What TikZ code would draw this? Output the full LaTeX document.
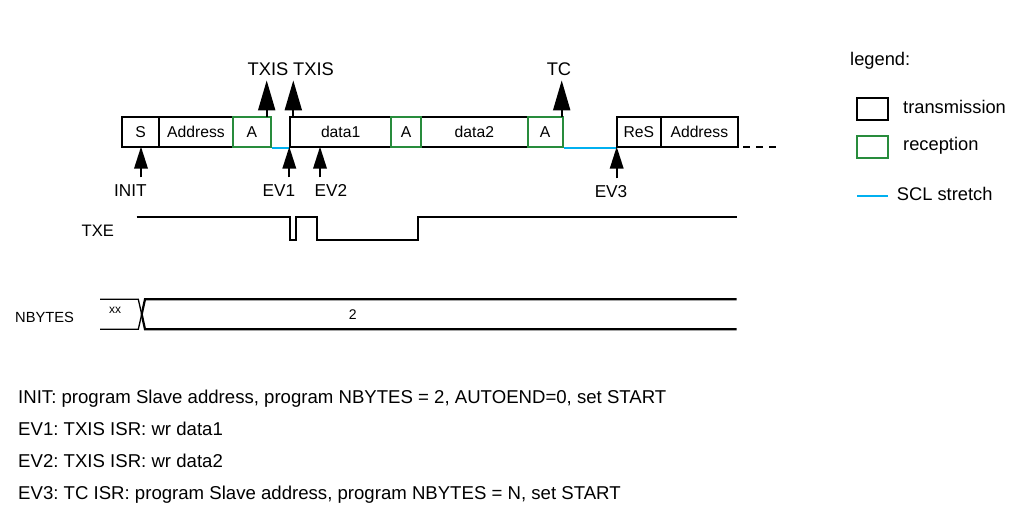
\documentclass[tikz,border=0pt]{standalone}
\usepackage{fontspec}
\setmainfont{Liberation Sans}
\usetikzlibrary{arrows.meta}
\frenchspacing

\definecolor{rxgreen}{RGB}{40,140,60}
\definecolor{sclblue}{RGB}{0,176,240}

\tikzset{
  fld/.style={draw, line width=2pt, minimum height=30pt, inner sep=0pt, anchor=west,
    font=\fontsize{15.7}{18}\selectfont, text height=11.5pt, text depth=0pt},
  rxfld/.style={fld, draw=rxgreen},
  txt/.style={inner sep=0pt, font=\fontsize{18.3}{22}\selectfont},
  note/.style={txt, font=\fontsize{18.6}{22}\selectfont, anchor=base west},
  toplbl/.style={txt, inner ysep=5pt, anchor=base},
  botlbl/.style={txt, font=\fontsize{17.2}{20}\selectfont, inner ysep=6.5pt, anchor=base},
  uparr/.style={line width=2pt, -{Triangle[length=30pt,width=17pt]}},
  dnarr/.style={line width=2pt, -{Triangle[length=22pt,width=13.5pt]}},
  sig/.style={line width=2.2pt},
  scl/.style={sclblue, line width=2pt},
  legbox/.style={draw, line width=2.2pt, minimum width=31pt, minimum height=21.7pt, inner sep=0pt}
}

\begin{document}
\begin{tikzpicture}[x=1pt, y=-1pt]
  \useasboundingbox (0,0) rectangle (1019,506);

  % frame: transmission fields first, reception on top
  \node[fld, minimum width=37.6pt] (st) at (120.7,131.7) {S};
  \node[fld, minimum width=73.4pt] (ad1) at (158.3,131.7) {Address};
  \node[fld, minimum width=100.7pt] (d1) at (289.3,131.7) {data1};
  \node[fld, minimum width=106.7pt] (d2) at (420,131.7) {data2};
  \node[fld, minimum width=44.3pt] (res) at (615.7,131.7) {ReS};
  \node[fld, minimum width=76.7pt] (ad2) at (660,131.7) {Address};
  \node[rxfld, minimum width=38.3pt] (a1) at (231.7,131.7) {A};
  \node[rxfld, minimum width=30pt] (a2) at (390,131.7) {A};
  \node[rxfld, minimum width=35pt] (a3) at (526.7,131.7) {A};

  % SCL stretch
  \draw[scl] (a1.south east) -- (d1.south west);
  \draw[scl] (a3.south east) -- (res.south west);

  \coordinate (dashstart) at (743,146.7);
  \coordinate (dashend) at (776,146.7);
  \draw[line width=2pt, dash pattern=on 7pt off 6pt] (dashstart) -- (dashend);

  % flags above
  \coordinate (ctx1) at (266.7,116.7);
  \coordinate (ctx2) at (293.3,116.7);
  \coordinate (ctc) at (561.7,116.7);
  \node[toplbl] (txis1) at (268,75) {TXIS};
  \node[toplbl, anchor=base west] (txis2) at (293,75) {TXIS};
  \node[toplbl] (tc) at (559,75) {TC};
  \draw[uparr] (ctx1) -- (ctx1 |- txis1.south);
  \draw[uparr] (ctx2) -- (ctx2 |- txis2.south);
  \draw[uparr] (ctc) -- (ctc |- tc.south);

  % events below
  \coordinate (cinit) at (141,146.7);
  \coordinate (cev1) at (289.3,146.7);
  \coordinate (cev2) at (320,146.7);
  \coordinate (cev3) at (616.7,146.7);
  \node[botlbl] (init) at (130.3,196) {INIT};
  \node[botlbl] (ev1) at (279,196) {EV1};
  \node[botlbl] (ev2) at (331,196) {EV2};
  \node[botlbl] (ev3) at (611,197) {EV3};
  \draw[dnarr] (init.north -| cinit) -- (cinit);
  \draw[dnarr] (ev1.north -| cev1) -- (cev1);
  \draw[dnarr] (ev2.north -| cev2) -- (cev2);
  \draw[dnarr] (ev3.north -| cev3) -- (cev3);

  % TXE
  \node[txt, font=\fontsize{16.6}{20}\selectfont, anchor=base] (txe) at (97.8,236) {TXE};
  \draw[sig] (136.7,216.7) -- (290,216.7) -- (290,240) -- (296,240) -- (296,216.7)
    -- (316.7,216.7) -- (316.7,240) -- (418.3,240) -- (418.3,216.7) -- (736.7,216.7);

  % NBYTES
  \node[txt, font=\fontsize{14.7}{18}\selectfont, anchor=base west] (nb) at (15,322.7) {NBYTES};
  \node[txt, font=\fontsize{12}{14}\selectfont, anchor=base] (xx) at (115,313.3) {xx};
  \node[txt, font=\fontsize{14}{16}\selectfont, anchor=base] (two) at (352.7,319.5) {2};
  \draw[line width=1.3pt] (100,299.3) -- (138.3,299.3) -- (141.7,314.3);
  \draw[line width=1.3pt] (100,329.3) -- (138.3,329.3) -- (141.7,314.3);
  \draw[sig] (141.7,314.3) -- (145,299.3) -- (736.7,299.3);
  \draw[sig] (141.7,314.3) -- (145,329.3) -- (736.7,329.3);

  % legend
  \node[txt, anchor=base west] (leg) at (850,65) {legend:};
  \node[legbox] (lgtx) at (872.8,109.2) {};
  \node[legbox, draw=rxgreen] (lgrx) at (872.8,146.9) {};
  \coordinate (sclA) at (857,195.7);
  \coordinate (sclB) at (888,195.7);
  \draw[scl] (sclA) -- (sclB);
  \node[txt, anchor=base west] (ltx) at (903,113.3) {transmission};
  \node[txt, anchor=base west] (lrx) at (903,150) {reception};
  \node[txt, anchor=base west] (lscl) at (896.7,200) {SCL stretch};

  % notes
  \node[note] (n1) at (18,403.3) {INIT: program Slave address, program NBYTES = 2, AUTOEND=0, set START};
  \node[note] (n2) at (18,435) {EV1: TXIS ISR: wr data1};
  \node[note] (n3) at (18,467.3) {EV2: TXIS ISR: wr data2};
  \node[note] (n4) at (18,499.3) {EV3: TC ISR: program Slave address, program NBYTES = N, set START};
\end{tikzpicture}
\end{document}
